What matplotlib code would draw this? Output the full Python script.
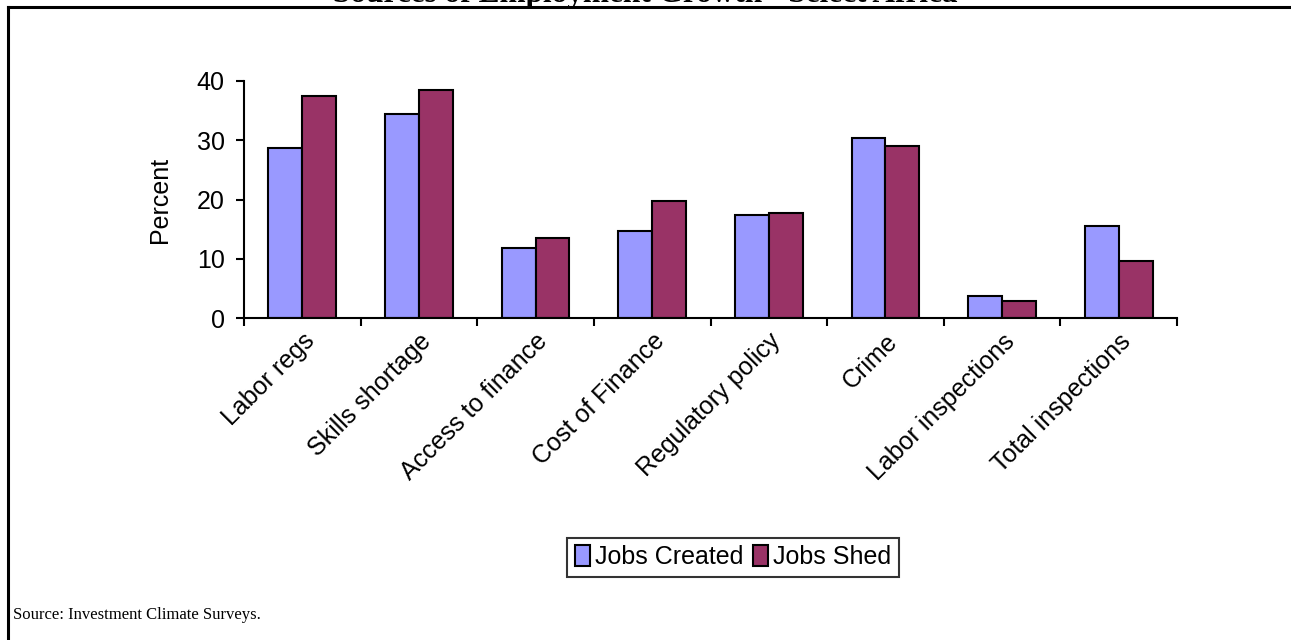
import matplotlib.pyplot as plt
from matplotlib.lines import Line2D
import numpy as np

categories = ["Labor regs", "Skills shortage", "Access to finance", "Cost of Finance",
              "Regulatory policy", "Crime", "Labor inspections", "Total inspections"]
jobs_created = [28.7, 34.5, 11.8, 14.7, 17.4, 30.4, 3.7, 15.6]
jobs_shed = [37.5, 38.4, 13.5, 19.7, 17.7, 29.1, 2.8, 9.6]
series_names = ["Jobs Created", "Jobs Shed"]
yticks = [0, 10, 20, 30, 40]

plt.rcParams['font.family'] = ['Liberation Sans', 'DejaVu Sans']

fig = plt.figure(figsize=(12.91, 6.4), dpi=100)
ax = fig.add_axes([244 / 1291, 1 - 318 / 640, (1177 - 244) / 1291, (318 - 81) / 640])

x = np.arange(len(categories))
w = 0.29
b1 = ax.bar(x - w / 2, jobs_created, w, color="#9999FF", edgecolor="black", linewidth=1.5,
            label=series_names[0])
b2 = ax.bar(x + w / 2, jobs_shed, w, color="#993366", edgecolor="black", linewidth=1.5,
            label=series_names[1])

ax.set_xlim(-0.5, len(categories) - 0.5)
ax.set_ylim(0, 40)
ax.set_yticks(yticks)
ax.tick_params(axis="y", labelsize=18, length=6, width=1.5, direction="out", pad=8)
ax.set_xticks(x)
ax.set_xticklabels(categories, rotation=45, ha="right", va="top",
                   rotation_mode="anchor", fontsize=18)
ax.tick_params(axis="x", which="major", length=0, pad=8)
ax.set_xticks(np.arange(len(categories) + 1) - 0.5, minor=True)
ax.tick_params(axis="x", which="minor", length=6, width=1.5, direction="out")
for s in ("top", "right"):
    ax.spines[s].set_visible(False)
for s in ("left", "bottom"):
    ax.spines[s].set_linewidth(1.5)
ax.set_ylabel("Percent", fontsize=18, labelpad=18)

leg = fig.legend(handles=[b1, b2], loc="center", bbox_to_anchor=(733 / 1291, 1 - 557 / 640),
                 ncol=2, fontsize=18, frameon=True, fancybox=False, edgecolor="black",
                 handlelength=0.6, handleheight=0.9, handletextpad=0.2, columnspacing=0.4,
                 borderpad=0.3, borderaxespad=0)
leg.get_frame().set_linewidth(1.5)

# outer frame and clipped heading
fig.add_artist(Line2D([8 / 1291, 8 / 1291], [0, 1 - 7 / 640], color="black", lw=2.2,
                      transform=fig.transFigure))
fig.add_artist(Line2D([8 / 1291, 1], [1 - 7 / 640, 1 - 7 / 640], color="black", lw=2.2,
                      transform=fig.transFigure))
fig.text(0.5, 1 - 2 / 640, "Sources of Employment Growth - Select Africa",
         ha="center", va="baseline", fontsize=22.5, fontweight="bold",
         family="Liberation Serif")
fig.text(13 / 1291, 1 - 615 / 640, "Source: Investment Climate Surveys.",
         ha="left", va="center", fontsize=12, family="Liberation Serif")

fig.savefig("out.png", dpi=100)
